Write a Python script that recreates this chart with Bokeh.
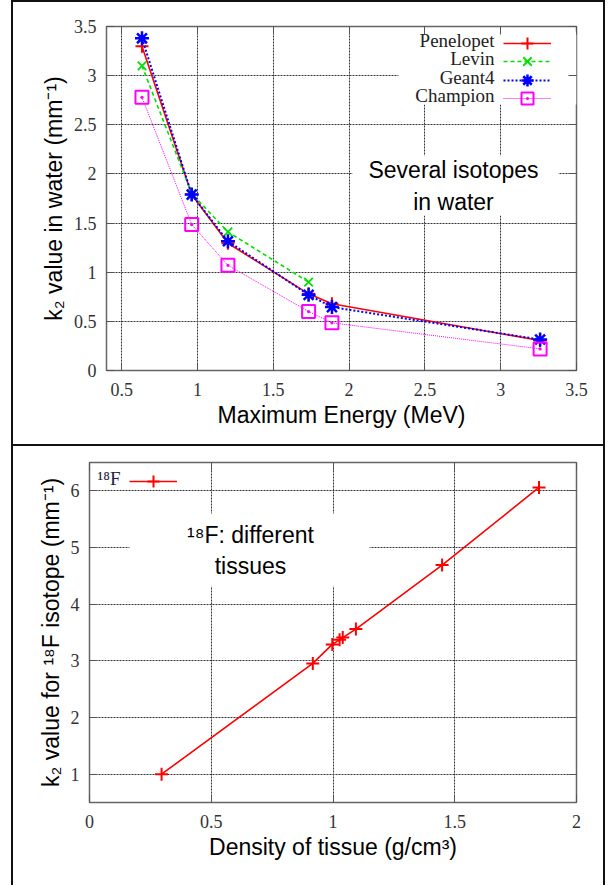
from bokeh.plotting import figure
from bokeh.models import (Range1d, LinearAxis, Legend, LegendItem, Label, BoxAnnotation,
                          FixedTicker, CustomJSTickFormatter)
from bokeh.embed import file_html
from bokeh.resources import INLINE

# ---------------- data: top panel (k2 in water vs max energy) ----------------
energy = [0.634, 0.962, 1.201, 1.733, 1.887, 3.26]
penelopet = [3.30, 1.79, 1.295, 0.78, 0.68, 0.305]
levin_energy = [0.634, 0.962, 1.201, 1.733]
levin = [3.10, 1.80, 1.41, 0.90]
geant4 = [3.38, 1.79, 1.315, 0.77, 0.645, 0.315]
champion = [2.78, 1.485, 1.07, 0.60, 0.485, 0.22]
series_names = ["Penelopet", "Levin", "Geant4", "Champion"]
top_xticks = [0.5, 1, 1.5, 2, 2.5, 3, 3.5]
top_xlabels = ["0.5", "1", "1.5", "2", "2.5", "3", "3.5"]
top_yticks = [0, 0.5, 1, 1.5, 2, 2.5, 3, 3.5]
top_ylabels = ["0", "0.5", "1", "1.5", "2", "2.5", "3", "3.5"]

# ---------------- data: bottom panel (k2 for 18F vs tissue density) ----------------
density = [0.296, 0.917, 0.997, 1.027, 1.04, 1.094, 1.448, 1.846]
k2_f18 = [1.0, 2.955, 3.29, 3.37, 3.41, 3.56, 4.69, 6.06]
f18_name = "¹⁸F"
bot_xticks = [0, 0.5, 1, 1.5, 2]
bot_xlabels = ["0", "0.5", "1", "1.5", "2"]
bot_yticks = [1, 2, 3, 4, 5, 6]
bot_ylabels = ["1", "2", "3", "4", "5", "6"]

SERIF = "Liberation Serif"
SANS = "Liberation Sans"
RED, GREEN, BLUE, MAGENTA = "#ff0000", "#00e000", "#0000ff", "#ff00ff"


def style(p, xt, xl, yt, yl, xstand, xlabstand, ystand, ylabstand):
    p.xaxis.ticker = FixedTicker(ticks=xt)
    p.yaxis.ticker = FixedTicker(ticks=yt)
    p.xaxis.major_label_overrides = dict(zip(xt, xl))
    p.yaxis.major_label_overrides = dict(zip(yt, yl))
    for ax in (p.xaxis[0], p.yaxis[0]):
        ax.major_label_text_font = SERIF
        ax.major_label_text_font_size = "18px"
        ax.major_label_text_color = "#333333"
        ax.axis_label_text_font = SANS
        ax.axis_label_text_font_size = "23px"
        ax.axis_label_text_font_style = "normal"
        ax.axis_label_text_color = "#000000"
        ax.axis_line_color = None
        ax.major_tick_in = 8
        ax.major_tick_out = 0
        ax.major_tick_line_color = "#555555"
        ax.minor_tick_line_color = None
    p.xaxis.major_label_standoff = xstand
    p.xaxis.axis_label_standoff = xlabstand
    p.yaxis.major_label_standoff = ystand
    p.yaxis.axis_label_standoff = ylabstand
    p.grid.grid_line_color = "#333333"
    p.grid.grid_line_dash = "2 1"
    p.grid.grid_line_width = 1
    p.xgrid.ticker = FixedTicker(ticks=xt)
    p.ygrid.ticker = FixedTicker(ticks=yt)
    p.outline_line_color = "#666666"
    p.outline_line_width = 1.5
    # mirrored axes (gnuplot style ticks on all sides)
    for loc, ticks in (("right", yt), ("above", xt)):
        ax = LinearAxis(ticker=FixedTicker(ticks=ticks),
                        formatter=CustomJSTickFormatter(code="return ''"),
                        axis_line_color=None, major_tick_in=8, major_tick_out=0,
                        major_tick_line_color="#555555", minor_tick_line_color=None,
                        major_label_text_font_size="1px")
        p.add_layout(ax, loc)


def mask(p, left, right, bottom, top):
    p.add_layout(BoxAnnotation(left=left, right=right, bottom=bottom, top=top,
                               left_units="screen", right_units="screen",
                               bottom_units="screen", top_units="screen",
                               fill_color="white", fill_alpha=1.0, line_color=None,
                               level="underlay"))


def key(renderers, loc):
    # glyph-only key entry (gnuplot style: the text is drawn to its left)
    return Legend(items=[LegendItem(label=" ", renderers=renderers)], location=loc,
                  glyph_width=48, glyph_height=30, spacing=0, padding=3, margin=0,
                  label_standoff=0, label_width=0, label_text_font_size="8px",
                  background_fill_alpha=0, border_line_color=None)


# ================= top figure =================
p1 = figure(width=594, height=446, output_backend="svg", toolbar_location=None,
            x_range=Range1d(0.4, 3.5), y_range=Range1d(0, 3.5),
            min_border_left=93, min_border_right=31, min_border_top=24, min_border_bottom=78,
            x_axis_label="Maximum Energy (MeV)", y_axis_label="k₂ value in water (mm⁻¹)")
style(p1, top_xticks, top_xlabels, top_yticks, top_ylabels, 12, 3, 10, 4)
mask(p1, 292, 470, 266, 339)
mask(p1, 246, 452, 155, 215)

l_pen = p1.line(energy, penelopet, line_color=RED, line_width=1.6)
s_pen = p1.scatter(energy, penelopet, marker="cross", size=13, line_color=RED, line_width=2)
l_lev = p1.line(levin_energy, levin, line_color=GREEN, line_width=1.6, line_dash="4 3")
s_lev = p1.scatter(levin_energy, levin, marker="x", size=12, line_color=GREEN, line_width=1.8)
l_gea = p1.line(energy, geant4, line_color=BLUE, line_width=2, line_dash="2 2")
s_gea = p1.scatter(energy, geant4, marker="asterisk", size=14, line_color=BLUE, line_width=2.5)
l_cha = p1.line(energy, champion, line_color=MAGENTA, line_width=1, line_dash="1 1")
s_cha = p1.scatter(energy, champion, marker="square_dot", size=13, line_color=MAGENTA,
                   fill_color=None, line_width=2)

series_renderers = [[l_pen, s_pen], [l_lev, s_lev], [l_gea, s_gea], [l_cha, s_cha]]
for i, (name, rends) in enumerate(zip(series_names, series_renderers)):
    row = 14 + i * 18.3          # row centre, px below the frame top
    p1.add_layout(key(rends, (397, int(round(344 - row - 18)))))
    p1.add_layout(Label(x=388, y=344 - row, x_units="screen", y_units="screen",
                        text=name, text_align="right", text_baseline="middle",
                        text_font=SERIF, text_font_size="19px", text_color="#222222"))
p1.add_layout(Label(x=347, y=184.5, x_units="screen", y_units="screen",
                    text="Several isotopes\nin water", text_align="center",
                    text_baseline="middle", text_font=SANS, text_font_size="23px",
                    text_color="#000000"))
p1.styles = {"border": "2px solid #111111", "margin-left": "11px"}

# ================= bottom figure =================
p2 = figure(width=594, height=439, output_backend="svg", toolbar_location=None,
            x_range=Range1d(0, 2), y_range=Range1d(0.5, 6.5),
            min_border_left=76, min_border_right=31, min_border_top=16, min_border_bottom=83,
            x_axis_label="Density of tissue (g/cm³)",
            y_axis_label="k₂ value for ¹⁸F isotope (mm⁻¹)")
style(p2, bot_xticks, bot_xlabels, bot_yticks, bot_ylabels, 12, 3, 10, 4)
mask(p2, 40, 280, 216, 289)

l_f = p2.line(density, k2_f18, line_color=RED, line_width=1.6)
s_f = p2.scatter(density, k2_f18, marker="cross", size=13, line_color=RED, line_width=2)
p2.add_layout(key([l_f, s_f], (40, 306)))
p2.add_layout(Label(x=31, y=324, x_units="screen", y_units="screen", text=f18_name,
                    text_align="right", text_baseline="middle", text_font=SERIF,
                    text_font_size="19px", text_color="#222244"))
p2.add_layout(Label(x=161, y=252, x_units="screen", y_units="screen",
                    text="¹⁸F: different\ntissues", text_align="center",
                    text_baseline="middle", text_font=SANS, text_font_size="23px",
                    text_color="#000000"))
p2.styles = {"border-left": "2px solid #111111", "border-right": "2px solid #111111",
             "margin-left": "11px"}

open("out.html", "w").write(file_html([p1, p2], INLINE))
